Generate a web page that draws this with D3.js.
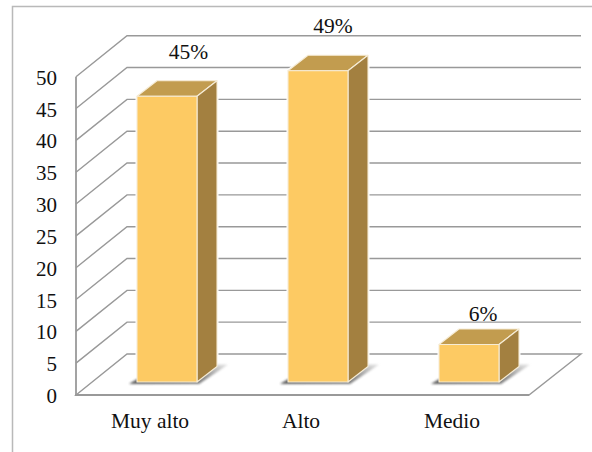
<!DOCTYPE html>
<html><head><meta charset="utf-8">
<script src="https://cdn.jsdelivr.net/npm/d3@7"></script>
<style>html,body{margin:0;padding:0;background:#fff}svg{display:block}text{font-family:"Liberation Serif",serif;fill:#111}</style>
</head><body><div id="c"></div>
<script>
const categories = ["Muy alto", "Alto", "Medio"];
const values = [45, 49, 6];
const valueLabels = ["45%", "49%", "6%"];
const yTicks = [0,5,10,15,20,25,30,35,40,45,50];

const W=592,H=452;
const svg=d3.select("#c").append("svg").attr("width",W).attr("height",H);
const defs=svg.append("defs");
defs.append("filter").attr("id","blur").attr("x","-30%").attr("y","-50%").attr("width","160%").attr("height","200%")
  .append("feGaussianBlur").attr("stdDeviation",1.1);
const grad=defs.append("linearGradient").attr("id","shade").attr("x1",0).attr("y1",1).attr("x2",1).attr("y2",0);
grad.append("stop").attr("offset","0%").attr("stop-color","#555");
grad.append("stop").attr("offset","55%").attr("stop-color","#888");
grad.append("stop").attr("offset","100%").attr("stop-color","#e4e4e4");

// Plot geometry: front plane of the 3D box and its depth offset
const x0=76,x1=529,yBase=395,yTop=76.7,depthX=51,depthY=41;
const barW=60,barDX=20,barDY=15.5,barInsetY=13,barTopInset=12.3,barInsetX=15.5;
const gridStroke="#999";

const x=d3.scaleBand().domain(categories).range([x0,x1]);
const y=d3.scaleLinear().domain([0,50]).range([yBase,yTop]);

// frame
svg.append("path").attr("d",`M12.5,452V6.5H592`).attr("fill","none").attr("stroke","#b9b9b9").attr("stroke-width",1.5);

// walls
const grid=svg.append("g").attr("fill","none").attr("stroke",gridStroke).attr("stroke-width",1.4);
grid.selectAll("path.g").data(yTicks).join("path").attr("class","g")
  .attr("d",d=>d===0?null:`M${x0},${y(d)}L${x0+depthX},${y(d)-depthY}H${x1+depthX+1}`);
grid.append("path").attr("d",`M${x0},${y(0)}V${y(50)}`).attr("stroke-width",1.8);
grid.append("path").attr("d",`M${x0},${y(0)}L${x0+depthX},${y(0)-depthY}H${x1+depthX+1}L${x1},${y(0)}Z`);
grid.append("path").attr("d",`M${x0-1},${y(0)}H${x1}`).attr("stroke-width",2.2);

// bars
const bars=svg.selectAll("g.bar").data(categories.map((c,i)=>({c,v:values[i],l:valueLabels[i]}))).join("g").attr("class","bar");
const bx=d=>x(d.c)+x.bandwidth()/2-barW/2+barInsetX;
const by0=yBase-barInsetY;
const byT=d=>y(d.v)-barTopInset;
// halo to interrupt grid lines
bars.append("path").attr("fill","#fff").attr("stroke","#fff").attr("stroke-width",3)
  .attr("d",d=>`M${bx(d)},${by0}V${byT(d)}L${bx(d)+barDX},${byT(d)-barDY}H${bx(d)+barW+barDX}V${by0-barDY}L${bx(d)+barW},${by0}Z`);
// floor shadow
bars.append("path").attr("filter","url(#blur)").attr("fill","url(#shade)").attr("opacity",.95)
  .attr("d",d=>`M${bx(d)-8},${by0+2}H${bx(d)+barW+2}L${bx(d)+barW+barDX+11},${by0-barDY-2}H${bx(d)+barW+barDX-4}L${bx(d)+barW-6},${by0-3}H${bx(d)}Z`);
const edge={stroke:"#f6ecd6","stroke-width":1.1,"stroke-linejoin":"round"};
function face(cls,fill,dfn){const p=bars.append("path").attr("class",cls).attr("fill",fill).attr("d",dfn);
  Object.entries(edge).forEach(([k,v])=>p.attr(k,v));}
face("top","#c29c4f",d=>`M${bx(d)},${byT(d)}L${bx(d)+barDX},${byT(d)-barDY}H${bx(d)+barW+barDX}L${bx(d)+barW},${byT(d)}Z`);
face("side","#a38040",d=>`M${bx(d)+barW},${by0}V${byT(d)}L${bx(d)+barW+barDX},${byT(d)-barDY}V${by0-barDY}Z`);
face("front","#fdca63",d=>`M${bx(d)},${by0}V${byT(d)}H${bx(d)+barW}V${by0}Z`);

// value labels
const labelShift=[{dx:37,dy:-49.5},{dx:30.5,dy:-50},{dx:29.5,dy:-36}];
bars.append("text").attr("text-anchor","middle").attr("font-size",21.5)
  .attr("x",(d,i)=>x(d.c)+x.bandwidth()/2+labelShift[i].dx)
  .attr("y",(d,i)=>y(d.v)+labelShift[i].dy)
  .text(d=>d.l);

// axes
const ay=svg.append("g").attr("transform",`translate(${x0-19},0)`)
  .call(d3.axisLeft(y).tickValues(yTicks).tickSize(0).tickPadding(0));
ay.select(".domain").remove();
ay.selectAll("text").attr("font-size",21).attr("dy","0.36em");
const ax=svg.append("g").attr("transform",`translate(-1.5,${yBase})`)
  .call(d3.axisBottom(x).tickSize(0).tickPadding(0));
ax.select(".domain").remove();
ax.selectAll("text").attr("font-size",21.5).attr("y",32.5).attr("dy",0);
</script></body></html>
